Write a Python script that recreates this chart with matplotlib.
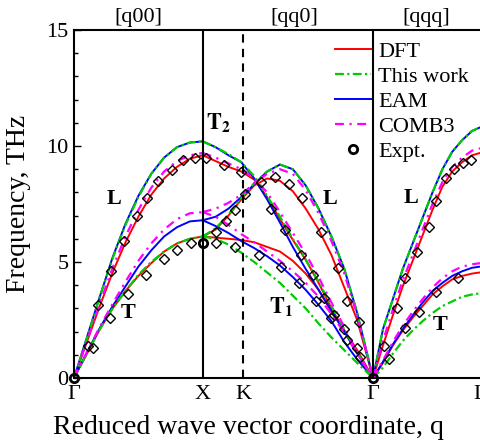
import numpy as np
import matplotlib
matplotlib.use('Agg')
import matplotlib.pyplot as plt
from matplotlib.lines import Line2D

plt.rcParams['font.family'] = 'Liberation Serif'
plt.rcParams['mathtext.fontset'] = 'stix'

# path coordinate along the dispersion, Gamma-X = 1
sym_pos = [0, 1.0, 1.315, 2.323, 3.154]
sym_lab = ['Γ', 'X', 'K', 'Γ', 'L']
dir_pos = [0.50, 1.71, 2.74]
dir_lab = ['[q00]', '[qq0]', '[qqq]']

q_gx = [0, .1, .2, .3, .4, .5, .6, .7, .8, .9, 1.0]
q_xg = [1.0, 1.1, 1.2, 1.3, 1.4, 1.5, 1.6, 1.7, 1.8, 1.9, 2.0, 2.1, 2.2, 2.323]
q_gl = [2.323, 2.4, 2.477, 2.554, 2.631, 2.708, 2.785, 2.862, 2.938, 3.015, 3.092, 3.154]

# DFT
dft_gx_L = [0, 1.55, 3.1, 4.55, 5.85, 6.95, 7.9, 8.6, 9.1, 9.45, 9.6]
dft_gx_T = [0, 1.05, 2.1, 3.0, 3.75, 4.4, 4.95, 5.45, 5.8, 6.0, 6.1]
dft_xg_T2 = [9.6, 9.35, 9.1, 8.9, 8.55, 7.8, 6.85, 5.95, 5.1, 4.1, 3.0, 2.05, 1.1, 0]
dft_xg_L = [6.1, 6.4, 7.0, 7.7, 8.3, 8.6, 8.5, 8.05, 7.3, 6.4, 5.3, 3.9, 2.5, 0]
dft_xg_T1 = [6.1, 6.05, 6.0, 5.95, 5.85, 5.65, 5.45, 5.05, 4.5, 3.8, 2.85, 2.05, 1.2, 0]
dft_gl_L = [0, 1.4, 2.7, 3.95, 5.05, 6.15, 7.25, 8.25, 8.9, 9.3, 9.6, 9.7]
dft_gl_T = [0, 0.65, 1.4, 2.05, 2.6, 3.1, 3.6, 3.95, 4.25, 4.4, 4.5, 4.55]

# This work
tw_gx_L = [0, 1.7, 3.5, 5.15, 6.6, 7.8, 8.8, 9.5, 9.95, 10.15, 10.2]
tw_gx_T = [0, 1.05, 2.1, 3.0, 3.75, 4.45, 5.0, 5.45, 5.8, 6.0, 6.1]
tw_xg_T2 = [10.2, 9.95, 9.65, 9.3, 8.7, 7.85, 6.95, 6.0, 5.1, 4.15, 3.1, 2.1, 1.1, 0]
tw_xg_L = [6.1, 6.45, 7.05, 7.75, 8.4, 8.9, 9.2, 9.0, 8.3, 7.3, 6.1, 4.7, 2.8, 0]
tw_xg_T1 = [6.1, 6.0, 5.75, 5.4, 5.0, 4.55, 4.1, 3.55, 3.0, 2.35, 1.75, 1.2, 0.65, 0]
tw_gl_L = [0, 2.1, 3.4, 4.7, 5.8, 6.9, 8.0, 9.0, 9.75, 10.25, 10.65, 10.8]
tw_gl_T = [0, 0.45, 1.05, 1.6, 2.05, 2.45, 2.8, 3.1, 3.3, 3.5, 3.6, 3.65]

# EAM
eam_gx_L = [0, 1.75, 3.5, 5.2, 6.65, 7.85, 8.8, 9.5, 9.95, 10.15, 10.2]
eam_gx_T = [0, 1.1, 2.15, 3.1, 3.95, 4.8, 5.5, 6.1, 6.5, 6.75, 6.8]
eam_xg_T2 = [10.2, 9.95, 9.6, 9.3, 8.6, 7.7, 6.7, 5.65, 4.7, 3.8, 2.9, 2.0, 1.05, 0]
eam_xg_L = [6.8, 6.95, 7.3, 7.8, 8.35, 8.9, 9.2, 9.0, 8.3, 7.3, 6.1, 4.7, 2.8, 0]
eam_xg_T1 = [6.8, 6.55, 6.25, 5.9, 5.6, 5.25, 4.85, 4.35, 3.8, 3.15, 2.45, 1.55, 0.8, 0]
eam_gl_L = [0, 2.1, 3.4, 4.7, 5.8, 6.9, 8.0, 9.0, 9.75, 10.25, 10.65, 10.8]
eam_gl_T = [0, 0.7, 1.45, 2.1, 2.7, 3.25, 3.75, 4.1, 4.4, 4.6, 4.75, 4.8]

# COMB3
comb_gx_L = [0, 1.6, 3.2, 4.75, 6.1, 7.25, 8.2, 8.9, 9.35, 9.6, 9.7]
comb_gx_T = [0, 1.1, 2.2, 3.2, 4.15, 5.05, 5.8, 6.4, 6.85, 7.1, 7.15]
comb_xg_T2 = [9.7, 9.5, 9.25, 9.0, 8.6, 8.0, 7.15, 6.25, 5.35, 4.35, 3.25, 2.2, 1.1, 0]
comb_xg_L = [7.15, 7.3, 7.55, 7.9, 8.4, 8.8, 9.0, 8.8, 8.1, 7.1, 5.9, 4.5, 2.7, 0]
comb_xg_T1 = [7.15, 6.95, 6.6, 6.2, 5.85, 5.45, 5.05, 4.6, 4.1, 3.5, 2.75, 1.95, 1.05, 0]
comb_gl_L = [0, 1.6, 2.95, 4.2, 5.3, 6.4, 7.5, 8.45, 9.1, 9.5, 9.8, 9.9]
comb_gl_T = [0, 0.75, 1.55, 2.25, 2.85, 3.4, 3.9, 4.3, 4.6, 4.8, 4.9, 4.95]

# experiment
exp_x = [0.11, 0.19, 0.29, 0.39, 0.49, 0.57, 0.65, 0.76, 0.85, 0.94,
         0.15, 0.28, 0.42, 0.56, 0.70, 0.80, 0.91,
         1.023, 1.162, 1.30, 1.53, 1.638, 1.76, 1.854, 1.946, 2.02, 2.10, 2.20,
         1.10, 1.18, 1.25, 1.33, 1.45, 1.56, 1.67, 1.77, 1.915, 2.05, 2.12, 2.215,
         1.10, 1.25, 1.44, 1.61, 1.75, 1.88, 2.0, 2.12, 2.225,
         2.408, 2.508, 2.569, 2.662, 2.754, 2.815, 2.892, 2.954, 3.023, 3.085,
         2.446, 2.569, 2.677, 2.815, 2.985]
exp_y = [1.4, 3.15, 4.6, 5.9, 7.0, 7.75, 8.5, 8.95, 9.4, 9.5,
         1.3, 2.6, 3.6, 4.45, 5.15, 5.5, 5.8,
         9.5, 9.2, 8.9, 7.3, 6.4, 5.3, 4.45, 3.45, 2.7, 2.1, 1.3,
         6.3, 6.75, 7.25, 7.95, 8.45, 8.65, 8.35, 7.75, 6.3, 4.75, 3.3, 2.4,
         5.8, 5.65, 5.3, 4.8, 4.1, 3.3, 2.6, 1.65, 0.9,
         1.4, 3.0, 4.3, 5.45, 6.5, 7.65, 8.6, 9.0, 9.25, 9.4,
         0.8, 2.15, 2.85, 3.7, 4.3]
exp_sym_x = [0, 1.0, 2.323]
exp_sym_y = [0, 5.8, 0]

fig = plt.figure(figsize=(4.8, 4.4), dpi=100)
ax = fig.add_axes([74/480, 62/440, 406/480, 348/440])

styles = {
    'DFT': dict(color='#ff0000', ls='-', lw=1.4),
    'EAM': dict(color='#0000ff', ls='-', lw=1.4),
    'This work': dict(color='#00cc00', ls=(0, (4, 1.5, 1, 1.5)), lw=1.6),
    'COMB3': dict(color='#ff00ff', ls=(0, (4, 2.5, 1, 2.5)), lw=1.6),
}
models = [
    ('DFT', [dft_gx_L, dft_gx_T], [dft_xg_T2, dft_xg_L, dft_xg_T1], [dft_gl_L, dft_gl_T]),
    ('EAM', [eam_gx_L, eam_gx_T], [eam_xg_T2, eam_xg_L, eam_xg_T1], [eam_gl_L, eam_gl_T]),
    ('This work', [tw_gx_L, tw_gx_T], [tw_xg_T2, tw_xg_L, tw_xg_T1], [tw_gl_L, tw_gl_T]),
    ('COMB3', [comb_gx_L, comb_gx_T], [comb_xg_T2, comb_xg_L, comb_xg_T1], [comb_gl_L, comb_gl_T]),
]
for name, gx, xg, gl in models:
    for b in gx:
        ax.plot(q_gx, b, **styles[name])
    for b in xg:
        ax.plot(q_xg, b, **styles[name])
    for b in gl:
        ax.plot(q_gl, b, **styles[name])

ax.plot(exp_x, exp_y, 'D', ms=5, mfc='none', mec='k', mew=1.0, zorder=5)
ax.plot(exp_sym_x, exp_sym_y, 'o', ms=6, mfc='none', mec='k', mew=2, zorder=6, clip_on=False)

ax.axvline(sym_pos[1], color='k', lw=1.5)
ax.axvline(sym_pos[2], color='k', lw=1.5, ls=(0, (4, 3)))
ax.axvline(sym_pos[3], color='k', lw=1.5)

# branch labels
ax.text(0.31, 7.7, 'L', fontsize=16, fontweight='bold', ha='center', va='center')
ax.text(1.99, 7.7, 'L', fontsize=16, fontweight='bold', ha='center', va='center')
ax.text(2.62, 7.75, 'L', fontsize=16, fontweight='bold', ha='center', va='center')
ax.text(0.42, 2.8, 'T', fontsize=16, fontweight='bold', ha='center', va='center')
ax.text(2.84, 2.3, 'T', fontsize=16, fontweight='bold', ha='center', va='center')
ax.text(1.12, 11.0, r'$\mathbf{T}_{\mathbf{2}}$', fontsize=16, ha='center', va='center')
ax.text(1.61, 3.1, r'$\mathbf{T}_{\mathbf{1}}$', fontsize=16, ha='center', va='center')

for p, s in zip(dir_pos, dir_lab):
    ax.text(p, 15.15, s, fontsize=16, ha='center', va='bottom')

ax.set_xlim(0, 3.123)
ax.set_ylim(0, 15)
ax.set_xticks(sym_pos)
ax.set_xticklabels(sym_lab, fontsize=16)
ax.set_yticks([0, 5, 10, 15])
ax.set_yticks(np.arange(0, 16, 1), minor=True)
ax.tick_params(axis='y', which='major', direction='in', length=5, width=1, labelsize=16, pad=4)
ax.tick_params(axis='y', which='minor', direction='in', length=3, width=1)
ax.tick_params(axis='x', length=0, pad=5)
for s in ['left', 'bottom', 'top']:
    ax.spines[s].set_linewidth(1.5)
ax.spines['right'].set_visible(False)

ax.set_xlabel('Reduced wave vector coordinate, q', fontsize=20)
ax.xaxis.set_label_coords(0.43, -0.105)
ax.set_ylabel('Frequency, THz', fontsize=20)
ax.yaxis.set_label_coords(-0.105, 0.5)

handles = [Line2D([], [], **styles['DFT']),
           Line2D([], [], **styles['This work']),
           Line2D([], [], **styles['EAM']),
           Line2D([], [], **styles['COMB3']),
           Line2D([], [], ls='none', marker='o', ms=6, mfc='none', mec='k', mew=2)]
ax.legend(handles, ['DFT', 'This work', 'EAM', 'COMB3', 'Expt.'], loc='upper left',
          bbox_to_anchor=(0.643, 0.967), frameon=False, fontsize=16, borderpad=0,
          borderaxespad=0, handlelength=1.6, handletextpad=0.35, labelspacing=0.2)

fig.savefig('out.png', dpi=100)
